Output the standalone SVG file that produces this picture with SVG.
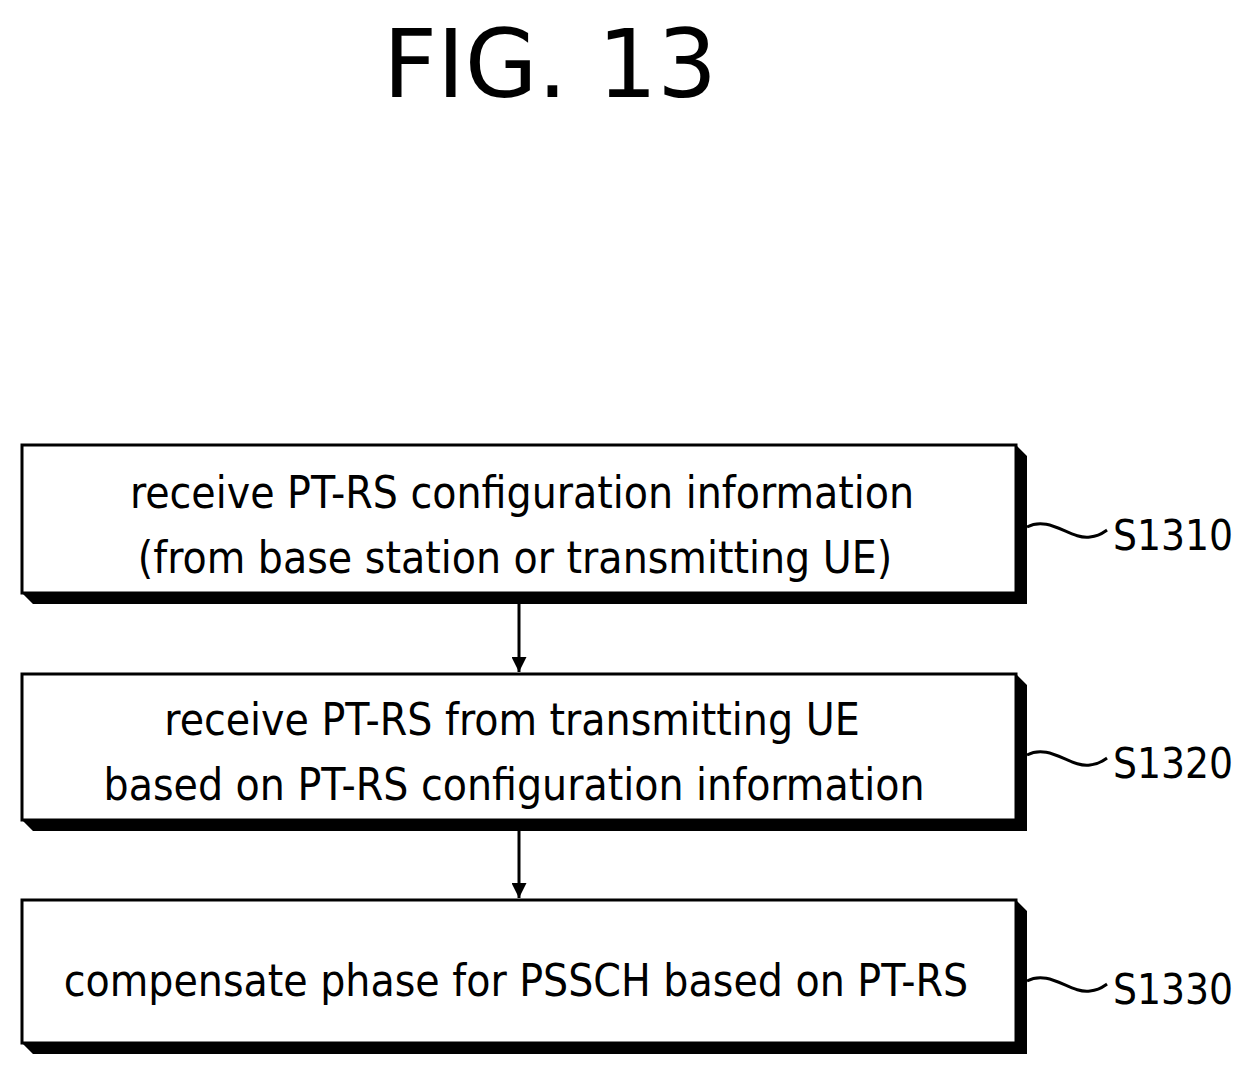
<svg xmlns="http://www.w3.org/2000/svg" width="1251" height="1080" viewBox="0 0 1251 1080">
<style>
.box{fill:#fff;stroke:#000;stroke-width:3}
.sh{fill:#000}
.t{font-family:"DejaVu Sans Condensed","Liberation Sans",sans-serif;font-size:44px;text-anchor:middle}
.lb{font-family:"DejaVu Sans Condensed","Liberation Sans",sans-serif;font-size:42px}
.c{stroke:#000;stroke-width:3;fill:none}
</style>
<defs><marker id="ah" viewBox="0 0 10 10" refX="10" refY="5" markerWidth="5" markerHeight="5" orient="auto"><path d="M0,0L10,5L0,10z"/></marker></defs>
<rect width="1251" height="1080" fill="#fff"/>
<text x="550" y="97" font-family="DejaVu Sans,sans-serif" font-size="94" text-anchor="middle">FIG. 13</text>
<g id="s1310">
<polygon class="sh" points="1016,445 1027,456 1027,604 33,604 22,593 1016,593"/>
<rect class="box" x="22" y="445" width="994" height="148"/>
<text class="t" x="522" y="508">receive PT-RS configuration information</text>
<text class="t" x="515" y="573">(from base station or transmitting UE)</text>
<text class="lb" x="1113" y="550">S1310</text>
</g>
<g id="s1320">
<polygon class="sh" points="1016,674 1027,685 1027,831 33,831 22,820 1016,820"/>
<rect class="box" x="22" y="674" width="994" height="146"/>
<text class="t" x="512" y="735">receive PT-RS from transmitting UE</text>
<text class="t" x="514" y="800">based on PT-RS configuration information</text>
<text class="lb" x="1113" y="778">S1320</text>
</g>
<g id="s1330">
<polygon class="sh" points="1016,900 1027,911 1027,1054 33,1054 22,1043 1016,1043"/>
<rect class="box" x="22" y="900" width="994" height="143"/>
<text class="t" x="516" y="996">compensate phase for PSSCH based on PT-RS</text>
<text class="lb" x="1113" y="1004">S1330</text>
</g>
<g id="connectors">
<line class="c" x1="519" y1="604" x2="519" y2="672" marker-end="url(#ah)"/>
<line class="c" x1="519" y1="831" x2="519" y2="898" marker-end="url(#ah)"/>
<path class="c" stroke-width="2" d="M1027,527 C1050,515 1070,540 1090,537 C1100,536 1104,532 1107,530"/>
<path class="c" stroke-width="2" d="M1027,755 C1050,743 1070,768 1090,765 C1100,764 1104,760 1107,758"/>
<path class="c" stroke-width="2" d="M1027,981 C1050,969 1070,994 1090,991 C1100,990 1104,986 1107,984"/>
</g>
</svg>
